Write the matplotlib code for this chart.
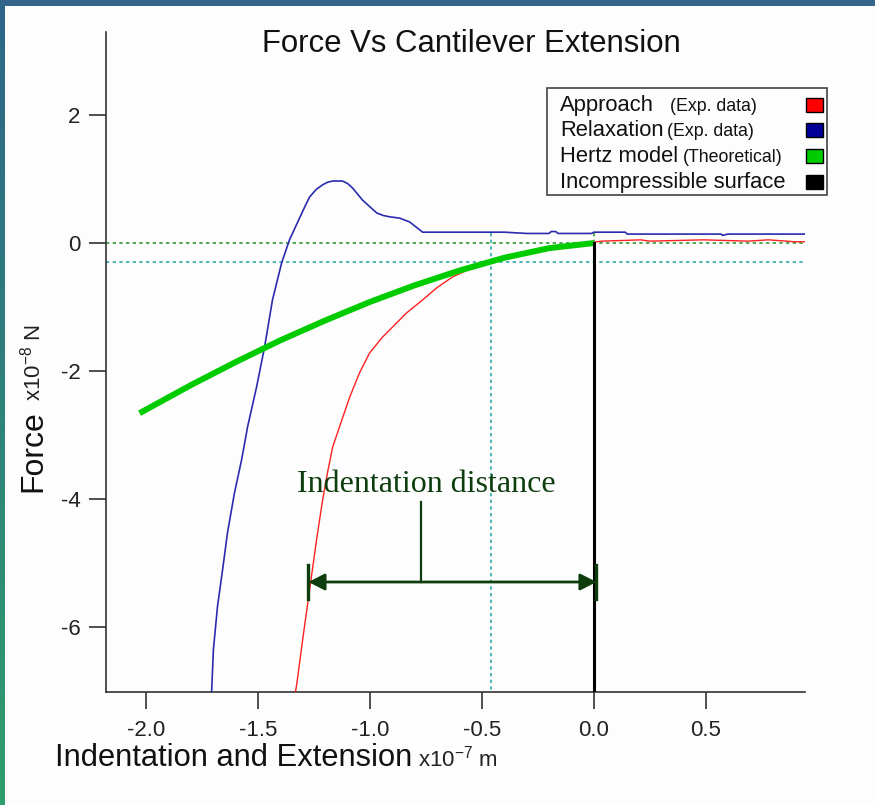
import numpy as np
import matplotlib
matplotlib.use("Agg")
import matplotlib.pyplot as plt
from matplotlib.patches import Rectangle

plt.rcParams['font.family'] = ['Liberation Sans', 'DejaVu Sans']
plt.rcParams['axes.unicode_minus'] = False
plt.rcParams['mathtext.fontset'] = 'custom'
plt.rcParams['mathtext.rm'] = 'Liberation Sans'
plt.rcParams['mathtext.it'] = 'Liberation Sans:italic'
plt.rcParams['mathtext.bf'] = 'Liberation Sans:bold'

# ---------------- data (x in 1e-7 m, force in 1e-8 N) ----------------
relax_x = [-1.708, -1.700, -1.682, -1.659, -1.637, -1.606, -1.574, -1.547, -1.507,
           -1.471, -1.436, -1.395, -1.360, -1.315, -1.290, -1.270, -1.240, -1.212,
           -1.190, -1.167, -1.123, -1.100, -1.078, -1.033, -0.970, -0.940, -0.912,
           -0.868, -0.823, -0.765, -0.70, -0.40, -0.30, -0.20, -0.19, -0.17, -0.16,
           -0.01, 0.00, 0.14, 0.15, 0.57, 0.575, 0.60, 0.944]
relax_y = [-7.02, -6.36, -5.69, -5.11, -4.53, -3.91, -3.39, -2.87, -2.25,
           -1.62, -0.89, -0.31, 0.05, 0.39, 0.58, 0.72, 0.84, 0.91,
           0.95, 0.97, 0.97, 0.93, 0.86, 0.67, 0.47, 0.43, 0.41,
           0.39, 0.33, 0.17, 0.17, 0.17, 0.15, 0.15, 0.18, 0.18, 0.15,
           0.15, 0.17, 0.17, 0.14, 0.14, 0.12, 0.14, 0.14]

approach_x = [-1.335, -1.328, -1.301, -1.270, -1.239, -1.212, -1.190, -1.167, -1.136,
              -1.091, -1.047, -1.002, -0.944, -0.836, -0.765, -0.702, -0.631, -0.546,
              -0.46, -0.40, -0.30, -0.20, -0.10, 0.00, 0.01, 0.04, 0.21, 0.25,
              0.49, 0.69, 0.78, 0.90, 0.944]
approach_y = [-7.05, -6.91, -6.20, -5.42, -4.64, -4.02, -3.59, -3.19, -2.87,
              -2.41, -2.03, -1.72, -1.47, -1.09, -0.89, -0.70, -0.53, -0.39,
              -0.29, -0.23, -0.15, -0.08, -0.03, 0.00, 0.02, 0.03, 0.05, 0.03,
              0.05, 0.03, 0.05, 0.02, 0.02]

hertz_x = [-2.03, -1.8, -1.6, -1.4, -1.2, -1.0, -0.8, -0.6, -0.4, -0.2, 0.0]
hertz_y = [-2.66, -2.22, -1.86, -1.52, -1.21, -0.92, -0.66, -0.43, -0.23, -0.08, 0.0]

contact_x = 0.0          # incompressible surface position
intersect_x = -0.46      # Hertz / approach intersection
intersect_y = -0.30

xticks = [-2.0, -1.5, -1.0, -0.5, 0.0, 0.5]
xtick_labels = ['-2.0', '-1.5', '-1.0', '-0.5', '0.0', '0.5']
yticks = [-6, -4, -2, 0, 2]
ytick_labels = ['-6', '-4', '-2', '0', '2']

legend_labels = [('Approach', '(Exp. data)'), ('Relaxation', '(Exp. data)'),
                 ('Hertz model', '(Theoretical)'), ('Incompressible surface', '')]
legend_colors = ['#ff0000', '#000099', '#00cc00', '#000000']

# ---------------- figure ----------------
W, H = 875, 805
fig = plt.figure(figsize=(W / 100, H / 100), dpi=100, facecolor='#fdfdfd')

# frame strips
strip = fig.add_axes([0, 0, 5 / W, 1])
grad = np.linspace(0, 1, 256)[:, None]
c_top = np.array([0x2f, 0x66, 0x8a]) / 255
c_bot = np.array([0x2e, 0x9e, 0x6c]) / 255
img = (c_top[None, None, :] * (1 - grad[:, :, None]) + c_bot[None, None, :] * grad[:, :, None])
strip.imshow(img, aspect='auto', extent=[0, 1, 0, 1], origin='upper')
strip.axis('off')
top = fig.add_axes([0, 1 - 6 / H, 1, 6 / H])
top.set_facecolor('#33668a')
top.set_xticks([]); top.set_yticks([])
for s in top.spines.values():
    s.set_visible(False)

ax = fig.add_axes([106 / W, 113 / H, 699 / W, 660 / H])
ax.set_facecolor('#fdfdfd')
ax.set_xlim(-2.18, 0.944)
ax.set_ylim(-7.02, 3.3)
for s in ['top', 'right']:
    ax.spines[s].set_visible(False)
for s in ['left', 'bottom']:
    ax.spines[s].set_color('#333333')
    ax.spines[s].set_linewidth(1.2)
ax.set_xticks(xticks)
ax.set_xticklabels(xtick_labels)
ax.set_yticks(yticks)
ax.set_yticklabels(ytick_labels)
ax.tick_params(direction='out', length=12, width=1.2, color='#333333',
               labelsize=16, labelcolor='#222222')
ax.tick_params(axis='x', pad=8)
ax.tick_params(axis='y', pad=6.5)

# reference dotted lines
ax.axhline(0, color='#339933', lw=1.2, ls=(0, (2, 2)), zorder=1)
ax.axhline(intersect_y, color='#33aaaa', lw=1.2, ls=(0, (2, 2)), zorder=1)
ax.plot([intersect_x, intersect_x], [0.15, -7.02], color='#33aaaa', lw=1.2,
        ls=(0, (2, 2)), zorder=1)
ax.plot([contact_x, contact_x], [0.15, 0.0], color='#339933', lw=1.2,
        ls=(0, (2, 2)), zorder=1)

# curves
ax.plot(relax_x, relax_y, color='#2b2bb0', lw=1.2, zorder=3)
ax.plot(approach_x, approach_y, color='#ff2020', lw=1.0, zorder=3)
ax.plot(hertz_x, hertz_y, color='#00cc00', lw=4.3, zorder=4, solid_capstyle='butt')
ax.plot([contact_x, contact_x], [0.0, -7.02], color='#000000', lw=2.2, zorder=5)

# indentation annotation
dg = '#0d3d0d'
ann_left, ann_right, ann_y = -1.275, 0.012, -5.3
ax.annotate('', xy=(ann_left, ann_y), xytext=(ann_right, ann_y),
            arrowprops=dict(arrowstyle='<|-|>,head_length=0.7,head_width=0.36',
                            mutation_scale=14, color=dg, lw=2.0,
                            shrinkA=0, shrinkB=0), zorder=6)
ax.plot([ann_left, ann_left], [-5.03, -5.57], color=dg, lw=2.4, zorder=6)
ax.plot([ann_right, ann_right], [-5.03, -5.57], color=dg, lw=2.4, zorder=6)
ax.plot([-0.774, -0.774], [-4.05, ann_y], color=dg, lw=1.6, zorder=6)
ax.text(-0.75, -3.78, 'Indentation distance', color=dg, fontsize=23,
        family=['Liberation Serif'], ha='center', va='center', zorder=6)

# legend (manual)
leg_box = Rectangle((547 / W, 1 - 195 / H), 280 / W, 107 / H, transform=fig.transFigure,
                    facecolor='#fdfdfd', edgecolor='#444444', lw=1.2, zorder=10)
fig.patches.append(leg_box)
rows_y = [111, 136, 162, 188]
small_x = [670, 667, 683, 0]
for (big, small), col, yb, sx in zip(legend_labels, legend_colors, rows_y, small_x):
    fig.text(560 / W, 1 - yb / H, big, fontsize=15.8, ha='left', va='baseline',
             color='#111111', zorder=11)
    if small:
        fig.text(sx / W, 1 - yb / H, small, fontsize=12.8, ha='left', va='baseline',
                 color='#111111', zorder=11)
    sq = Rectangle((806 / W, 1 - (yb + 1) / H), 17 / W, 14 / H, transform=fig.transFigure,
                   facecolor=col, edgecolor='#000000', lw=1.0, zorder=11)
    fig.patches.append(sq)

# titles and labels
fig.text(471 / W, 1 - 44 / H, 'Force Vs Cantilever Extension', fontsize=22.4,
         ha='center', va='center', color='#111111')
fig.text(55 / W, 1 - 766 / H, 'Indentation and Extension', fontsize=22.2,
         ha='left', va='baseline', color='#111111')
fig.text(418 / W, 1 - 766 / H, 'x10$^{-7}$ m', fontsize=16,
         ha='left', va='baseline', color='#222222')
fig.text(41 / W, 1 - 492 / H, 'Force', fontsize=23, rotation=90,
         rotation_mode='anchor', ha='left', va='baseline', color='#111111')
fig.text(41 / W, 1 - 401 / H, 'x10$^{-8}$ N', fontsize=16, rotation=90,
         rotation_mode='anchor', ha='left', va='baseline', color='#222222')

fig.savefig('out.png', dpi=100, facecolor=fig.get_facecolor())
